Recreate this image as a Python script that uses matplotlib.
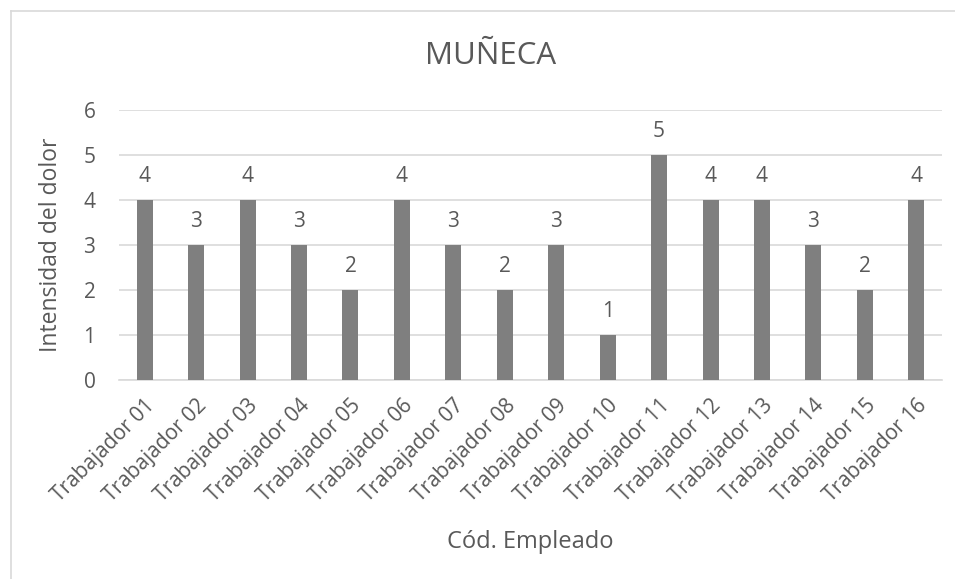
import matplotlib
matplotlib.use("Agg")
import matplotlib.pyplot as plt
from matplotlib.lines import Line2D

plt.rcParams['font.family'] = ['Open Sans', 'DejaVu Sans']

categories = [f"Trabajador {i:02d}" for i in range(1, 17)]
values = [4, 3, 4, 3, 2, 4, 3, 2, 3, 1, 5, 4, 4, 3, 2, 4]
y_ticks = [0, 1, 2, 3, 4, 5, 6]

title = "MUÑECA"
x_label = "Cód. Empleado"
y_label = "Intensidad del dolor"

text_color = "#595959"
bar_color = "#7f7f7f"
grid_color = "#d9d9d9"

W, H = 955, 579
fig = plt.figure(figsize=(W / 100, H / 100), dpi=100)
ax = fig.add_axes([119 / W, 1 - 380 / H, (942 - 119) / W, 270 / H])

x = list(range(len(categories)))
ax.bar(x, values, width=0.31, color=bar_color, zorder=3)
for xi, v in zip(x, values):
    ax.annotate(str(v), (xi, v), xytext=(0, 17), textcoords="offset points",
                ha="center", va="center", fontsize=15, color=text_color)

ax.set_xlim(-0.5, len(categories) - 0.5)
ax.set_ylim(0, 6)
ax.set_yticks(y_ticks)
ax.set_yticklabels([str(t) for t in y_ticks], fontsize=15, color=text_color)
ax.set_xticks(x)
ax.set_xticklabels(categories, rotation=45, ha="right", va="top",
                   rotation_mode="anchor", fontsize=15, color=text_color)
ax.tick_params(axis="both", length=0)
ax.tick_params(axis="y", pad=17)
ax.tick_params(axis="x", pad=11)
ax.grid(axis="y", color=grid_color, linewidth=1.2, zorder=0)
for s in ["top", "right", "left"]:
    ax.spines[s].set_visible(False)
ax.spines["bottom"].set_color(grid_color)
ax.spines["bottom"].set_linewidth(1.2)

fig.text(491 / W, 1 - 56 / H, title, ha="center", va="center",
         fontsize=22.5, color=text_color)
fig.text(530 / W, 1 - 542 / H, x_label, ha="center", va="center",
         fontsize=17, color=text_color)
fig.text(51 / W, 1 - 245 / H, y_label, ha="center", va="center",
         rotation=90, fontsize=16.5, color=text_color)

# chart area border
fig.add_artist(Line2D([10.5 / W, 10.5 / W], [0, 1 - 11 / H], color="#d9d9d9",
                      linewidth=1.2, transform=fig.transFigure))
fig.add_artist(Line2D([10.5 / W, 1], [1 - 11 / H, 1 - 11 / H], color="#d9d9d9",
                      linewidth=1.2, transform=fig.transFigure))

fig.savefig("out.png", dpi=100)
